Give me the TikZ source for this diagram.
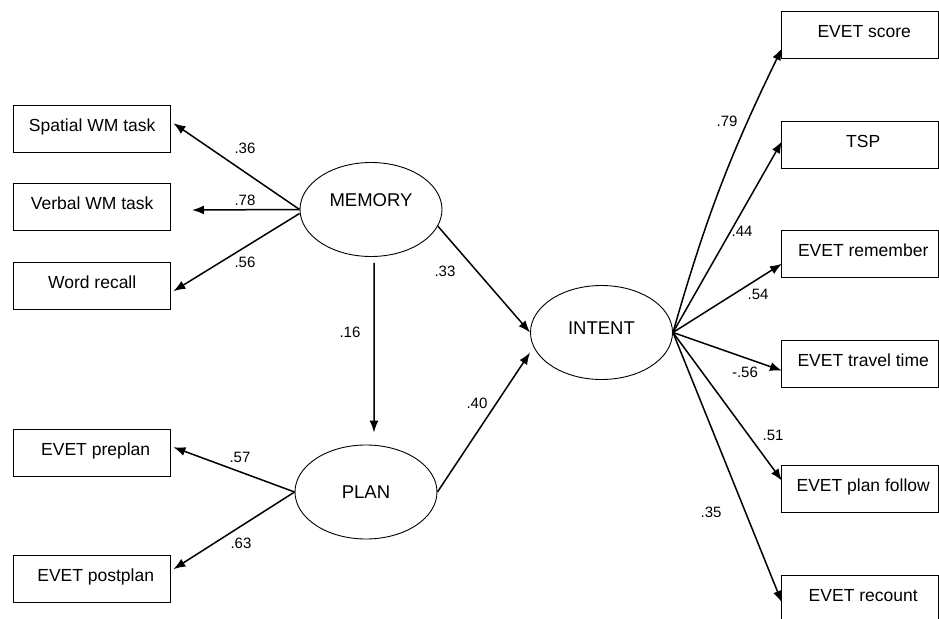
\documentclass[tikz,border=0pt]{standalone}
\usepackage{fontspec}
\setmainfont{Liberation Sans}
\usetikzlibrary{arrows.meta,shapes.geometric}
\begin{document}
\begin{tikzpicture}[x=1bp,y=-1bp,
  obs/.style={draw, line width=1.4bp, minimum width=157bp, minimum height=47bp, inner sep=0pt, anchor=north west, text height=13bp, text depth=9bp, font=\fontsize{17.5bp}{20bp}\selectfont},
  lat/.style={draw, ellipse, line width=0.9bp, minimum width=142bp, minimum height=94bp, inner sep=0pt, font=\fontsize{18.5bp}{21bp}\selectfont},
  conn/.style={line width=1.5bp, -{Latex[length=12bp,width=9bp]}},
  lbl/.style={font=\fontsize{15bp}{18bp}\selectfont, inner sep=0pt}
]
\useasboundingbox (0,0) rectangle (939,619);
% observed boxes left
\node[obs] (sp) at (13,105) {Spatial WM task};
\node[obs] (vb) at (13,183) {Verbal WM task};
\node[obs] (wr) at (13,262) {Word recall};
\node[obs] (pre) at (13,429) {\hspace*{7bp}EVET preplan};
\node[obs] (post) at (13,555) {\hspace*{7bp}EVET postplan};
% observed boxes right
\node[obs] (score) at (781,11) {\hspace*{8bp}EVET score};
\node[obs] (tsp) at (781,121) {\hspace*{6bp}TSP};
\node[obs] (rem) at (781,230) {\hspace*{6bp}EVET remember};
\node[obs] (trav) at (781,340) {\hspace*{6bp}EVET travel time};
\node[obs] (pf) at (781,465) {\hspace*{6bp}EVET plan follow};
\node[obs] (rec) at (781,575) {\hspace*{6bp}EVET recount};
% latent
\node[lat, text height=10bp, text depth=15bp] (mem) at (371,209.5) {MEMORY};
\node[lat] (plan) at (366,492) {PLAN};
\node[lat, text height=12bp, text depth=8bp] (int) at (601.5,332.5) {INTENT};
\coordinate (vtip) at (192,210);
% memory loadings
\draw[conn] (mem.west) -- ([xshift=2bp,yshift=6bp]sp.east);
\draw[conn] (mem.west) -- (vtip);
\draw[conn] ([yshift=-4bp]mem.west) -- ([xshift=2bp,yshift=-5bp]wr.east);
% structural
\draw[conn] ([xshift=3bp,yshift=-6bp]mem.south) -- ([xshift=8bp,yshift=12bp]plan.north);
\draw[conn] (mem.-14) -- (int.west);
\draw[conn] (plan.east) -- ([yshift=-20bp]int.west);
% plan loadings
\draw[conn] (plan.west) -- ([xshift=2bp,yshift=6bp]pre.east);
\draw[conn] (plan.west) -- ([xshift=2bp,yshift=10bp]post.east);
% intent loadings
\draw[conn] (int.east) to[bend left=5] ([xshift=1bp,yshift=-13bp]score.west);
\draw[conn] (int.east) -- ([xshift=1bp,yshift=4bp]tsp.west);
\draw[conn] (int.east) -- ([xshift=1bp,yshift=-9.5bp]rem.west);
\draw[conn] (int.east) -- ([xshift=1bp,yshift=-6.5bp]trav.west);
\draw[conn] (int.east) -- ([xshift=1bp,yshift=8.5bp]pf.west);
\draw[conn] (int.east) -- ([xshift=1bp,yshift=-3.5bp]rec.west);
% labels
\node[lbl] (l1) at (245,148) {.36};
\node[lbl] (l2) at (245,200) {.78};
\node[lbl] (l3) at (245,262) {.56};
\node[lbl] (l4) at (350,332) {.16};
\node[lbl] (l5) at (445,271) {.33};
\node[lbl] (l6) at (477,403) {.40};
\node[lbl] (l7) at (240,457) {.57};
\node[lbl] (l8) at (241,543) {.63};
\node[lbl] (l9) at (727,121) {.79};
\node[lbl] (l10) at (742,231) {.44};
\node[lbl] (l11) at (758,294) {.54};
\node[lbl] (l12) at (745,372) {-.56};
\node[lbl] (l13) at (773,435) {.51};
\node[lbl] (l14) at (711,512) {.35};
\end{tikzpicture}
\end{document}
